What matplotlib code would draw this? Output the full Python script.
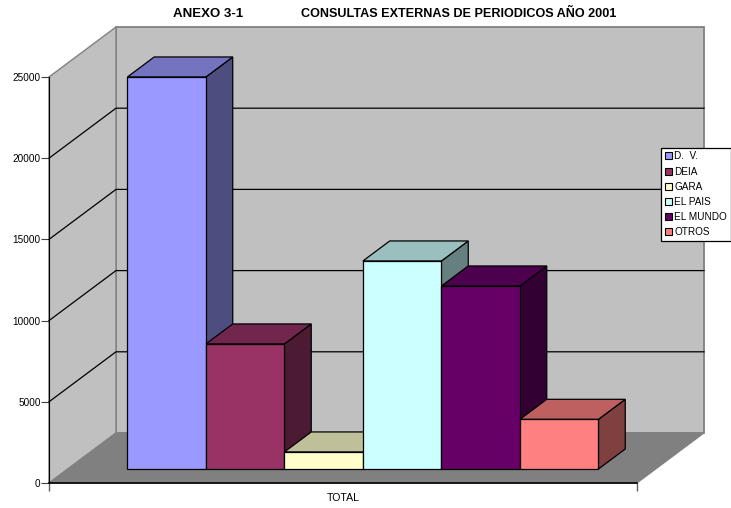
import numpy as np
import matplotlib
matplotlib.use('Agg')
import matplotlib.pyplot as plt
from matplotlib.patches import Patch

plt.rcParams['font.family'] = ['Liberation Sans', 'DejaVu Sans']

categorias = ['D.  V.', 'DEIA', 'GARA', 'EL PAIS', 'EL MUNDO', 'OTROS']
valores = [24140, 7700, 1050, 12810, 11270, 3060]
colores = ['#9999FF', '#993366', '#FFFFCC', '#CCFFFF', '#660066', '#FF8080']
ticks_y = [0, 5000, 10000, 15000, 20000, 25000]

W, H = 731, 508
YMAX = 25000
XLIM = 3.745

# desplazamiento de la perspectiva (fondo del grafico), en unidades de datos
DX = 0.8535
DY = 3079
D0, D1 = 0.28, 0.68   # profundidad de las barras
X_INI = -2.985        # borde izquierdo de la primera barra


def proy(x, v, d):
    return x + d * DX, v + d * DY


def cara(ax, puntos, color, ec='none', lw=0.0, z=1):
    xs = [proy(*p)[0] for p in puntos]
    ys = [proy(*p)[1] for p in puntos]
    ax.fill(xs, ys, facecolor=color, edgecolor=ec, linewidth=lw, zorder=z, clip_on=False)


def oscuro(color, f):
    r, g, b = matplotlib.colors.to_rgb(color)
    return (r * f, g * f, b * f)


fig = plt.figure(figsize=(W / 100, H / 100), dpi=100)
ax = fig.add_axes([49 / W, 1 - 483 / H, 588 / W, 406 / H])
ax.set_xlim(-XLIM, XLIM)
ax.set_ylim(0, YMAX)
ax.patch.set_visible(False)

# paredes y suelo
cara(ax, [(-XLIM, 0, 1), (XLIM, 0, 1), (XLIM, YMAX, 1), (-XLIM, YMAX, 1)], '#C0C0C0', '#808080', 1.3)
cara(ax, [(-XLIM, 0, 0), (-XLIM, 0, 1), (-XLIM, YMAX, 1), (-XLIM, YMAX, 0)], '#C0C0C0', '#808080', 1.0)
cara(ax, [(-XLIM, 0, 0), (XLIM, 0, 0), (XLIM, 0, 1), (-XLIM, 0, 1)], '#808080', '#808080', 0.8, z=2)

# lineas de la rejilla
for t in ticks_y[1:-1]:
    xs = [proy(-XLIM, t, 0)[0], proy(-XLIM, t, 1)[0], proy(XLIM, t, 1)[0]]
    ys = [proy(-XLIM, t, 0)[1], proy(-XLIM, t, 1)[1], proy(XLIM, t, 1)[1]]
    ax.plot(xs, ys, color='black', lw=0.9, zorder=2, clip_on=False)

# barras, de izquierda a derecha
for i, v in enumerate(valores):
    x0 = X_INI + i
    x1 = x0 + 1
    z = 3 + i
    c = colores[i]
    cara(ax, [(x1, 0, D0), (x1, 0, D1), (x1, v, D1), (x1, v, D0)], oscuro(c, 0.5), 'black', 0.9, z)
    cara(ax, [(x0, v, D0), (x1, v, D0), (x1, v, D1), (x0, v, D1)], oscuro(c, 0.75), 'black', 0.9, z)
    cara(ax, [(x0, 0, D0), (x1, 0, D0), (x1, v, D0), (x0, v, D0)], c, 'black', 0.9, z)

# ejes
for s in ['top', 'right']:
    ax.spines[s].set_visible(False)
ax.spines['left'].set_zorder(20)
ax.spines['bottom'].set_zorder(20)
ax.spines['bottom'].set_linewidth(1.2)
ax.set_yticks(ticks_y)
ax.tick_params(axis='y', length=5.5, width=0.8, color='#404040', labelsize=7.2, pad=0.5)
ax.set_xticks([-XLIM, XLIM], ['', ''])
ax.set_xticks([0], ['TOTAL'], minor=True)
ax.tick_params(axis='x', which='major', length=5.5, width=1.0, color='#606060')
ax.tick_params(axis='x', which='minor', length=0, labelsize=7.6, pad=7)

fig.text(173 / W, 1 - 14 / H, 'ANEXO 3-1', fontsize=9.5, fontweight='bold', va='center', ha='left')
fig.text(301 / W, 1 - 14 / H, 'CONSULTAS EXTERNAS DE PERIODICOS AÑO 2001',
         fontsize=9.05, fontweight='bold', va='center', ha='left')

parches = [Patch(facecolor=c, edgecolor='black', linewidth=0.8, label=n)
           for n, c in zip(categorias, colores)]
leg = ax.legend(handles=parches, loc='upper left', bbox_to_anchor=(661 / W, 1 - 148 / H),
                bbox_transform=fig.transFigure, borderaxespad=0, fancybox=False,
                edgecolor='black', framealpha=1, fontsize=7.2, labelspacing=0.52,
                handlelength=0.7, handleheight=0.7, handletextpad=0.3, borderpad=0.35)
leg.set_zorder(30)
leg.get_frame().set_linewidth(0.9)

fig.savefig('out.png', dpi=100)
